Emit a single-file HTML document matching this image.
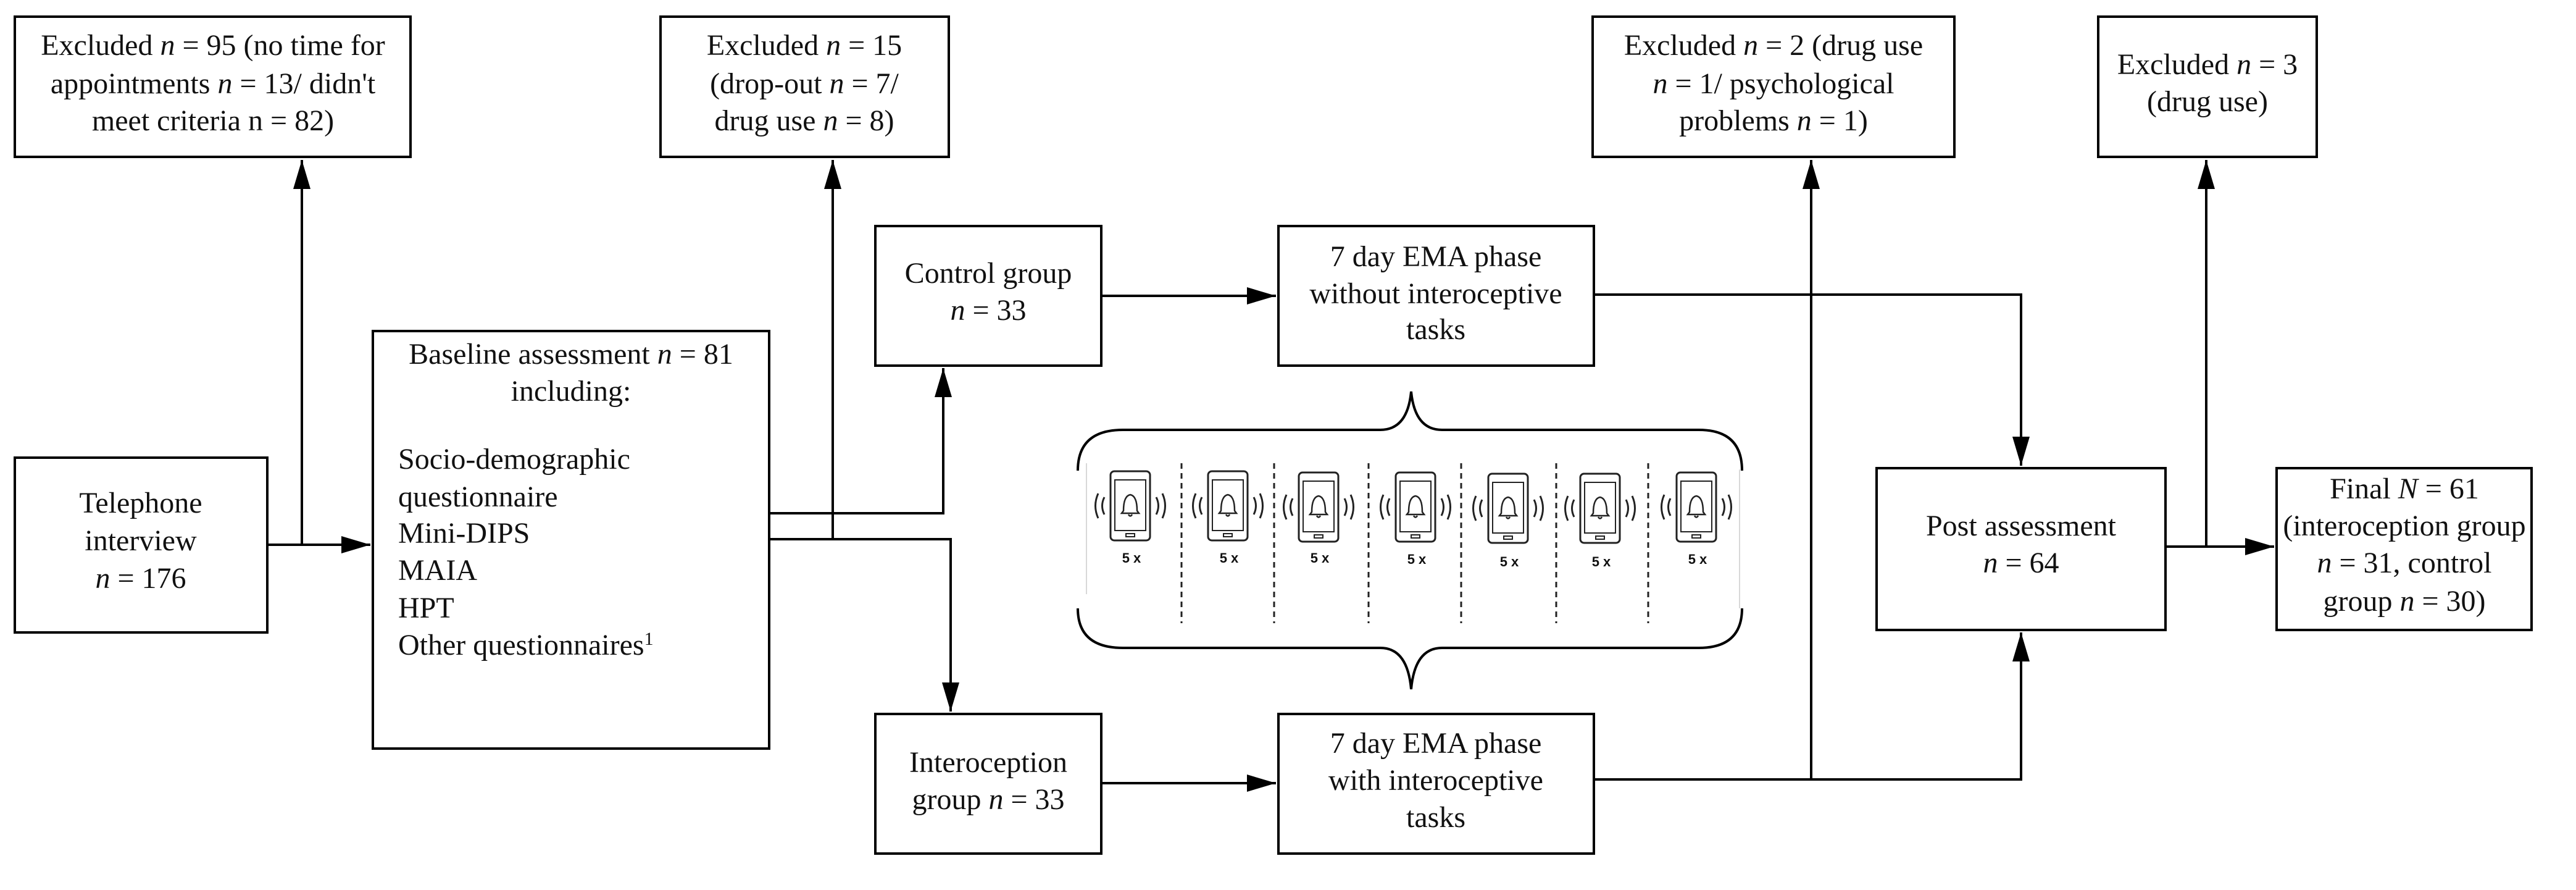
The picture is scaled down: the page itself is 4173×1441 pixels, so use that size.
<!DOCTYPE html>
<html><head><meta charset="utf-8"><style>
html,body{margin:0;padding:0;background:#fff;}
svg{display:block;}
text{font-family:"Liberation Serif",serif;font-size:48px;fill:#111;}
.c{text-anchor:middle;}
.s{font-family:"Liberation Sans",sans-serif;font-size:22px;font-weight:bold;text-anchor:middle;}
</style></head><body>
<svg width="4173" height="1441" viewBox="0 0 4173 1441" xmlns="http://www.w3.org/2000/svg">
<defs>
<g id="ph">
<rect x="-32" y="-56" width="64" height="112" rx="6" fill="none" stroke="#222" stroke-width="3"/>
<rect x="-25" y="-42" width="50" height="82" fill="none" stroke="#222" stroke-width="2"/>
<rect x="-7" y="45" width="14" height="5" fill="none" stroke="#222" stroke-width="2"/>
<path d="M-11,8 Q-11,-16 0,-18 Q11,-16 11,8 L14,12 L-14,12 Z M-3,14 Q0,19 3,14" fill="none" stroke="#222" stroke-width="2.5"/>
<path d="M-42,-14 Q-49,0 -42,14 M-52,-20 Q-61,0 -52,20 M42,-14 Q49,0 42,14 M52,-20 Q61,0 52,20" fill="none" stroke="#222" stroke-width="3"/>
</g>
</defs>
<g fill="none" stroke="#000" stroke-width="4">
<rect x="24" y="27" width="641" height="227"/>
<rect x="1070" y="27" width="467" height="227"/>
<rect x="2580" y="27" width="586" height="227"/>
<rect x="3399" y="27" width="354" height="227"/>
<rect x="24" y="741" width="409" height="283"/>
<rect x="604" y="536" width="642" height="676"/>
<rect x="1418" y="366" width="366" height="226"/>
<rect x="2071" y="366" width="511" height="226"/>
<rect x="1418" y="1156" width="366" height="226"/>
<rect x="2071" y="1156" width="511" height="226"/>
<rect x="3040" y="758" width="468" height="262"/>
<rect x="3688" y="758" width="413" height="262"/>
</g>
<g fill="none" stroke="#000" stroke-width="4">
<path d="M433,882 L600,882"/>
<path d="M489,882 L489,259"/>
<path d="M1246,831 L1528,831 L1528,596"/>
<path d="M1246,873 L1540,873 L1540,1152"/>
<path d="M1349,873 L1349,259"/>
<path d="M1784,479 L2067,479"/>
<path d="M1784,1268 L2067,1268"/>
<path d="M2582,477 L3274,477 L3274,754"/>
<path d="M2582,1262 L3274,1262 L3274,1024"/>
<path d="M2934,1262 L2934,259"/>
<path d="M3508,885 L3684,885"/>
<path d="M3574,885 L3574,259"/>
</g>
<g fill="#000">
<path d="M489,259 L475,306 L503,306 Z"/>
<path d="M1349,259 L1335,306 L1363,306 Z"/>
<path d="M2934,259 L2920,306 L2948,306 Z"/>
<path d="M3574,259 L3560,306 L3588,306 Z"/>
<path d="M600,882 L553,868 L553,896 Z"/>
<path d="M1528,596 L1514,643 L1542,643 Z"/>
<path d="M1540,1152 L1526,1105 L1554,1105 Z"/>
<path d="M2067,479 L2020,465 L2020,493 Z"/>
<path d="M2067,1268 L2020,1254 L2020,1282 Z"/>
<path d="M3274,754 L3260,707 L3288,707 Z"/>
<path d="M3274,1024 L3260,1071 L3288,1071 Z"/>
<path d="M3684,885 L3637,871 L3637,899 Z"/>
</g>
<g fill="none" stroke="#000" stroke-width="4">
<path d="M1746,762 Q1746,696 1819,696 L2236,696 Q2280,696 2286,634 Q2292,696 2336,696 L2752,696 Q2822,696 2822,762"/>
<path d="M1746,985 Q1746,1049 1819,1049 L2236,1049 Q2280,1049 2286,1116 Q2292,1049 2336,1049 L2752,1049 Q2822,1049 2822,985"/>
</g>
<g stroke="#ccc" stroke-width="1.5"><path d="M1760,750 L1760,962"/><path d="M2818,760 L2818,985"/></g>
<g stroke="#222" stroke-width="3" stroke-dasharray="9,7">
<path d="M1914,750 L1914,1009"/><path d="M2064,750 L2064,1009"/><path d="M2217,750 L2217,1009"/>
<path d="M2367,750 L2367,1009"/><path d="M2521,750 L2521,1009"/><path d="M2670,750 L2670,1009"/>
</g>
<use href="#ph" x="1831" y="819"/><use href="#ph" x="1989" y="819"/><use href="#ph" x="2136" y="821"/>
<use href="#ph" x="2293" y="821"/><use href="#ph" x="2443" y="823"/><use href="#ph" x="2592" y="823"/>
<use href="#ph" x="2748" y="821"/>
<text class="s" x="1833" y="911">5 x</text><text class="s" x="1991" y="911">5 x</text><text class="s" x="2138" y="911">5 x</text>
<text class="s" x="2295" y="913">5 x</text><text class="s" x="2445" y="917">5 x</text><text class="s" x="2594" y="917">5 x</text>
<text class="s" x="2750" y="913">5 x</text>
<text class="c" x="345" y="89">Excluded <tspan font-style="italic">n</tspan> = 95 (no time for</text>
<text class="c" x="345" y="151">appointments <tspan font-style="italic">n</tspan> = 13/ didn't</text>
<text class="c" x="345" y="211">meet criteria n = 82)</text>
<text class="c" x="1303" y="89">Excluded <tspan font-style="italic">n</tspan> = 15</text>
<text class="c" x="1303" y="151">(drop-out <tspan font-style="italic">n</tspan> = 7/</text>
<text class="c" x="1303" y="211">drug use <tspan font-style="italic">n</tspan> = 8)</text>
<text class="c" x="2873" y="89">Excluded <tspan font-style="italic">n</tspan> = 2 (drug use</text>
<text class="c" x="2873" y="151"><tspan font-style="italic">n</tspan> = 1/ psychological</text>
<text class="c" x="2873" y="211">problems <tspan font-style="italic">n</tspan> = 1)</text>
<text class="c" x="3576" y="120">Excluded <tspan font-style="italic">n</tspan> = 3</text>
<text class="c" x="3576" y="180">(drug use)</text>
<text class="c" x="228" y="830">Telephone</text>
<text class="c" x="228" y="891">interview</text>
<text class="c" x="228" y="952"><tspan font-style="italic">n</tspan> = 176</text>
<text class="c" x="925" y="589">Baseline assessment <tspan font-style="italic">n</tspan> = 81</text>
<text class="c" x="925" y="649">including:</text>
<text x="645" y="759">Socio-demographic</text>
<text x="645" y="820">questionnaire</text>
<text x="645" y="879">Mini-DIPS</text>
<text x="645" y="939">MAIA</text>
<text x="645" y="1000">HPT</text>
<text x="645" y="1060">Other questionnaires<tspan font-size="30" dy="-16">1</tspan></text>
<text class="c" x="1601" y="458">Control group</text>
<text class="c" x="1601" y="518"><tspan font-style="italic">n</tspan> = 33</text>
<text class="c" x="2326" y="431">7 day EMA phase</text>
<text class="c" x="2326" y="491">without interoceptive</text>
<text class="c" x="2326" y="549">tasks</text>
<text class="c" x="1601" y="1250">Interoception</text>
<text class="c" x="1601" y="1310">group <tspan font-style="italic">n</tspan> = 33</text>
<text class="c" x="2326" y="1219">7 day EMA phase</text>
<text class="c" x="2326" y="1279">with interoceptive</text>
<text class="c" x="2326" y="1339">tasks</text>
<text class="c" x="3274" y="867">Post assessment</text>
<text class="c" x="3274" y="927"><tspan font-style="italic">n</tspan> = 64</text>
<text class="c" x="3895" y="807">Final <tspan font-style="italic">N</tspan> = 61</text>
<text class="c" x="3895" y="867">(interoception group</text>
<text class="c" x="3895" y="927"><tspan font-style="italic">n</tspan> = 31, control</text>
<text class="c" x="3895" y="989">group <tspan font-style="italic">n</tspan> = 30)</text>
</svg>
</body></html>
